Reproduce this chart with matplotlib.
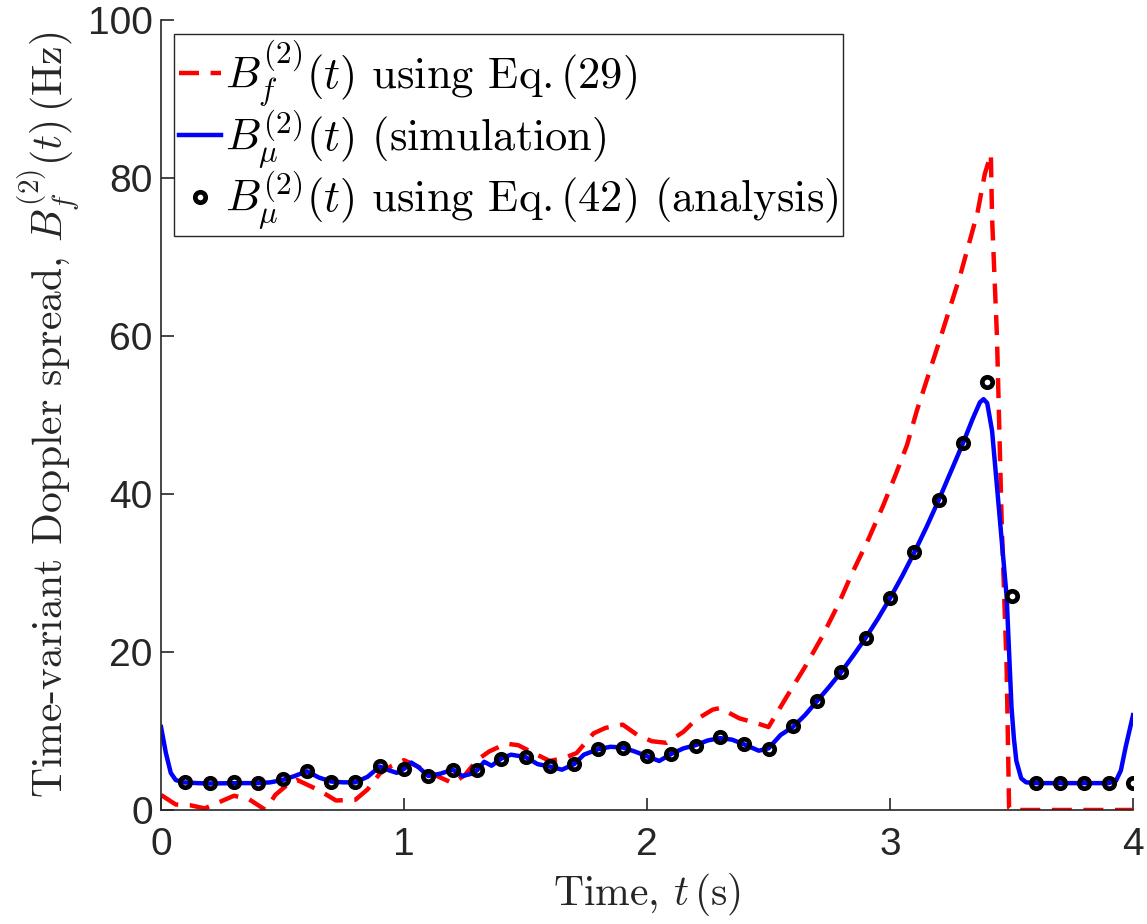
import numpy as np
import matplotlib
matplotlib.use("Agg")
from matplotlib import pyplot as plt

# B_f^(2)(t) from Eq. (29) -- red dashed
t_eq29 = [0.0, 0.06, 0.12, 0.18, 0.30, 0.36, 0.43, 0.47, 0.52, 0.56, 0.65, 0.72,
          0.80, 0.85, 0.90, 0.95, 1.00, 1.05, 1.10, 1.20, 1.25, 1.30, 1.35, 1.42,
          1.47, 1.54, 1.60, 1.66, 1.71, 1.78, 1.83, 1.90, 1.96, 2.02, 2.08, 2.15,
          2.20, 2.27, 2.30, 2.38, 2.45, 2.50, 2.58, 2.65, 2.72, 2.79, 2.84, 2.91,
          2.97, 3.02, 3.07, 3.11, 3.21, 3.29, 3.36, 3.39, 3.415, 3.42, 3.44, 3.46,
          3.48, 3.49, 3.50, 4.0]
b_eq29 = [1.9, 0.7, 0.6, 0.2, 1.8, 1.4, 0.0, 1.9, 3.2, 3.8, 2.5, 1.2,
          1.3, 2.6, 4.6, 5.6, 6.3, 5.6, 4.8, 3.4, 4.4, 6.3, 7.4, 8.4,
          8.2, 7.1, 6.2, 6.6, 7.2, 9.7, 10.4, 10.8, 9.5, 8.7, 8.5, 9.9,
          11.4, 12.7, 12.9, 11.6, 11.0, 10.5, 14.6, 18.1, 21.9, 26.2, 29.7, 34.2,
          38.4, 42.2, 46.2, 50.5, 60.0, 67.8, 75.6, 80.5, 83.0, 75.0, 60.0, 36.0,
          18.0, 0.3, 0.0, 0.0]

# B_mu^(2)(t) simulation -- blue
t_sim = [0.0, 0.02, 0.04, 0.06, 0.09, 0.15, 0.20, 0.30, 0.40, 0.45, 0.50, 0.55,
         0.60, 0.65, 0.70, 0.75, 0.80, 0.85, 0.90, 0.94, 0.97, 1.00, 1.03, 1.06,
         1.10, 1.15, 1.20, 1.24, 1.28, 1.30, 1.33, 1.36, 1.40, 1.44, 1.50, 1.55,
         1.60, 1.65, 1.70, 1.74, 1.80, 1.85, 1.90, 1.95, 2.00, 2.05, 2.10, 2.15,
         2.20, 2.25, 2.30, 2.35, 2.40, 2.46, 2.50, 2.55, 2.60, 2.65, 2.70, 2.75,
         2.80, 2.85, 2.90, 2.95, 3.00, 3.05, 3.10, 3.15, 3.20, 3.25, 3.30, 3.34,
         3.37, 3.385, 3.40, 3.42, 3.44, 3.46, 3.48, 3.49, 3.50, 3.51, 3.52, 3.54,
         3.56, 3.60, 3.70, 3.80, 3.90, 3.93, 3.95, 3.97, 4.0]
b_sim = [10.5, 7.2, 4.7, 3.8, 3.5, 3.4, 3.35, 3.4, 3.4, 3.5, 3.8, 4.3,
         4.9, 4.1, 3.6, 3.5, 3.5, 4.2, 5.5, 5.0, 4.7, 5.2, 6.0, 5.4,
         4.3, 4.6, 5.1, 4.3, 4.6, 5.0, 6.1, 5.6, 6.5, 7.0, 6.7, 5.8,
         5.5, 5.1, 5.8, 7.0, 7.7, 8.0, 7.9, 7.4, 6.8, 6.2, 7.1, 7.8,
         8.2, 8.8, 9.1, 8.9, 8.3, 7.5, 7.8, 9.5, 10.5, 12.0, 13.8, 15.6,
         17.5, 19.6, 21.8, 24.2, 26.8, 29.6, 32.6, 35.8, 39.2, 42.8, 46.4, 49.5,
         51.6, 52.0, 51.5, 48.0, 41.0, 34.0, 27.0, 20.0, 13.0, 9.0, 6.2, 4.0,
         3.5, 3.4, 3.4, 3.4, 3.4, 3.7, 5.0, 8.0, 12.0]

# B_mu^(2)(t) from Eq. (42) -- black circles
t_eq42 = [0.1, 0.2, 0.3, 0.4, 0.5, 0.6, 0.7, 0.8, 0.9, 1.0,
          1.1, 1.2, 1.3, 1.4, 1.5, 1.6, 1.7, 1.8, 1.9, 2.0,
          2.1, 2.2, 2.3, 2.4, 2.5, 2.6, 2.7, 2.8, 2.9, 3.0,
          3.1, 3.2, 3.3, 3.4, 3.5, 3.6, 3.7, 3.8, 3.9, 4.0]
b_eq42 = [3.6, 3.4, 3.5, 3.4, 3.9, 4.9, 3.6, 3.5, 5.6, 5.2,
          4.3, 5.1, 5.0, 6.5, 6.7, 5.6, 5.8, 7.7, 7.9, 6.8,
          7.1, 8.1, 9.2, 8.4, 7.7, 10.6, 13.8, 17.5, 21.8, 26.8,
          32.6, 39.2, 46.4, 54.2, 27.1, 3.4, 3.4, 3.4, 3.4, 3.4]

x_ticks = [0, 1, 2, 3, 4]
y_ticks = [0, 20, 40, 60, 80, 100]

plt.rcParams["mathtext.fontset"] = "cm"
axis_col = (0.15, 0.15, 0.15)
serif = "cmr10"

fig = plt.figure(figsize=(11.47, 9.24), dpi=100)
ax = fig.add_axes([0.1404, 0.1234, 0.8474, 0.855])

ax.plot(t_eq29, b_eq29, "--", color="red", lw=3.2, dashes=(4.5, 2.6),
        label=r"$B_f^{(2)}(t)$ using Eq.$\,$(29)")
ax.plot(t_sim, b_sim, "-", color="blue", lw=3.2,
        label=r"$B_\mu^{(2)}(t)$ (simulation)")
ax.plot(t_eq42, b_eq42, "o", color="black", mfc="none", mew=3.4, ms=7.5,
        label=r"$B_\mu^{(2)}(t)$ using Eq.$\,$(42) (analysis)")

ax.set_xlim(0, 4)
ax.set_ylim(0, 100)
ax.set_xticks(x_ticks)
ax.set_yticks(y_ticks)
for s in ["top", "right"]:
    ax.spines[s].set_visible(False)
for s in ["left", "bottom"]:
    ax.spines[s].set_color(axis_col)
    ax.spines[s].set_linewidth(1.2)
ax.tick_params(direction="in", length=9, width=1.2, color=axis_col,
               labelcolor=axis_col, labelsize=28, pad=6)
ax.tick_params(axis="x", pad=12)
for lab in ax.get_xticklabels() + ax.get_yticklabels():
    lab.set_fontfamily("Liberation Sans")

ax.set_xlabel(r"Time, $t\,$(s)", fontfamily=serif, fontsize=30, color=axis_col,
              labelpad=6)
ax.set_ylabel(r"Time-variant Doppler spread, $B_f^{(2)}(t)\,$(Hz)",
              fontfamily=serif, fontsize=30, color=axis_col, labelpad=4)

leg = ax.legend(loc="upper left", bbox_to_anchor=(0.0134, 0.982),
                prop={"family": serif, "size": 32}, handlelength=0.96,
                handletextpad=0.08, borderpad=0.1, labelspacing=0.0,
                borderaxespad=0, fancybox=False, framealpha=1)
leg.get_frame().set_edgecolor(axis_col)
leg.get_frame().set_linewidth(1.0)

fig.savefig("out.png", dpi=100)
